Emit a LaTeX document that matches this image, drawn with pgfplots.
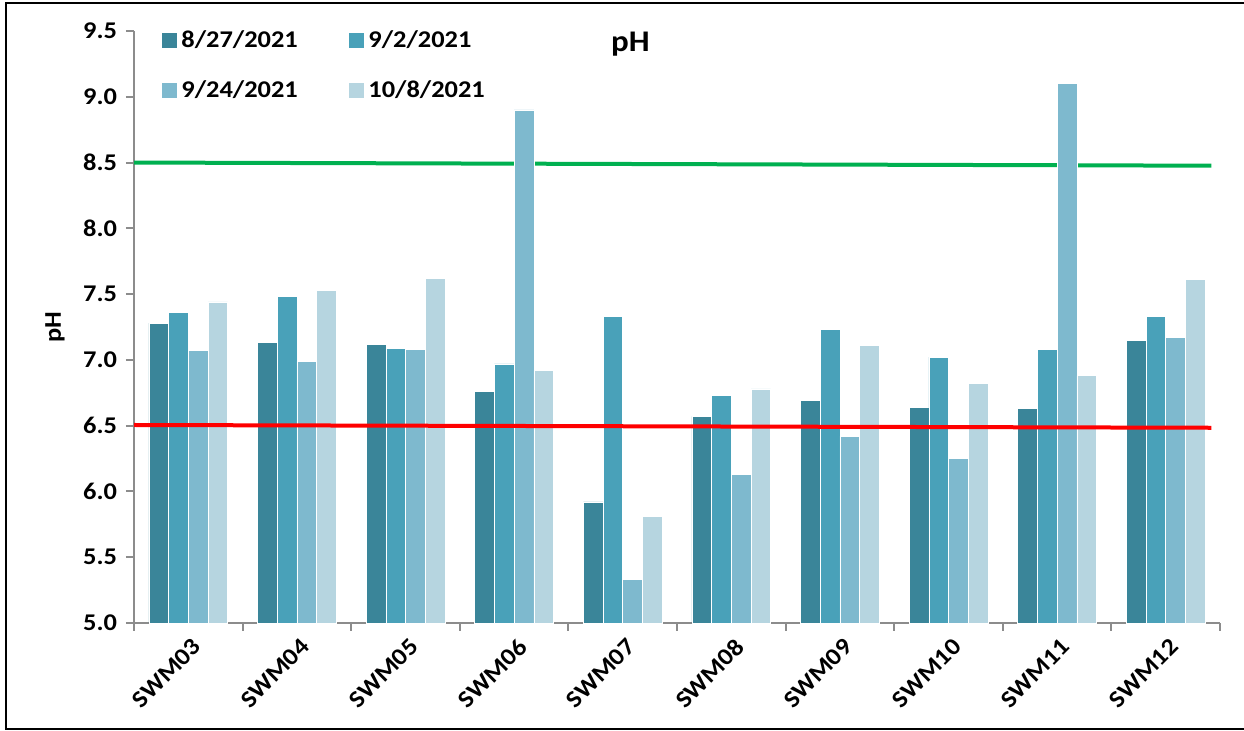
\documentclass[border=0pt]{standalone}
\usepackage{pgfplots}
\pgfplotsset{compat=1.18}
\usepackage{fontspec}
\setmainfont{Carlito}[FakeStretch=1.1]

\definecolor{cA}{HTML}{3A8599}
\definecolor{cB}{HTML}{49A1B9}
\definecolor{cC}{HTML}{7EB9CE}
\definecolor{cD}{HTML}{B6D5E0}
\definecolor{axgray}{HTML}{8C8C8C}
\definecolor{limgreen}{HTML}{00B050}

\begin{document}
\begin{tikzpicture}[x=0.5pt,y=0.5pt]
\useasboundingbox (0,0) rectangle (1244,731);
% outer frame
\draw[line width=1pt, black] (1244,728) -- (6,728) -- (6,2) -- (1244,2);

\begin{axis}[
  at={(67pt,54pt)}, anchor=south west,
  scale only axis, width=543pt, height=296pt,
  xmin=-0.5, xmax=9.5, ymin=5, ymax=9.5,
  axis x line*=bottom, axis y line*=left,
  axis line style={-, draw=axgray, line width=1pt},
  tick style={draw=axgray, line width=1pt},
  tick align=outside,
  ytick={5,5.5,...,9.5},
  yticklabel style={/pgf/number format/fixed, /pgf/number format/fixed zerofill,
    /pgf/number format/precision=1, /pgf/number format/assume math mode=true,
    font=\bfseries\fontsize{12}{14}\selectfont, xshift=-1pt},
  major tick length=4pt,
  xtick={0,...,9},
  xticklabels={SWM03,SWM04,SWM05,SWM06,SWM07,SWM08,SWM09,SWM10,SWM11,SWM12},
  x tick style={draw=none},
  x tick label style={font=\bfseries\fontsize{12}{14}\selectfont, rotate=45, anchor=north east, inner sep=1pt, yshift=-2pt},
  extra x ticks={-0.5,0.5,...,9.5},
  extra x tick labels={},
  extra x tick style={x tick style={draw=axgray, line width=1pt}, major tick length=4pt},
  legend columns=2,
  legend cell align=left,
  legend style={draw=none, fill=none, at={(axis description cs:0.0258,1.0085)}, anchor=north west,
    font=\bfseries\fontsize{12}{14}\selectfont,
    /tikz/every even column/.append style={column sep=2pt},
    row sep=11pt, inner sep=0pt},
  legend image code/.code={\fill[#1, draw=none] (0pt,-3.75pt) rectangle (7.5pt,3.75pt);},
  clip=false,
]
% limit lines
\addplot[limgreen, line width=2pt, forget plot] coordinates {(-0.5,8.50) (9.42,8.476)};

\pgfplotsset{mybar/.style={ybar, bar width=9.85pt, draw=white, line width=0.3pt}}
\addplot[mybar, fill=cA, bar shift=-14.775pt] coordinates {
 (0,7.28) (1,7.13) (2,7.12) (3,6.76) (4,5.92) (5,6.57) (6,6.69) (7,6.64) (8,6.63) (9,7.15)};
\addplot[mybar, fill=cB, bar shift=-4.925pt] coordinates {
 (0,7.36) (1,7.48) (2,7.09) (3,6.97) (4,7.33) (5,6.73) (6,7.23) (7,7.02) (8,7.08) (9,7.33)};
\addplot[mybar, fill=cC, bar shift=4.925pt] coordinates {
 (0,7.07) (1,6.99) (2,7.08) (3,8.90) (4,5.33) (5,6.13) (6,6.42) (7,6.25) (8,9.10) (9,7.17)};
\addplot[mybar, fill=cD, bar shift=14.775pt] coordinates {
 (0,7.44) (1,7.53) (2,7.62) (3,6.92) (4,5.81) (5,6.78) (6,7.11) (7,6.82) (8,6.88) (9,7.61)};
\legend{\makebox[80pt][l]{8/27/2021}, 9/2/2021, \makebox[80pt][l]{9/24/2021}, 10/8/2021}

\addplot[red, line width=2pt, forget plot] coordinates {(-0.5,6.505) (9.42,6.484)};

\node[font=\bfseries\fontsize{15}{17}\selectfont] at (rel axis cs:0.457,0.977) {pH};
\end{axis}
\node[rotate=90, font=\bfseries\fontsize{12}{14}\selectfont] at (55,404) {pH};
\end{tikzpicture}
\end{document}
